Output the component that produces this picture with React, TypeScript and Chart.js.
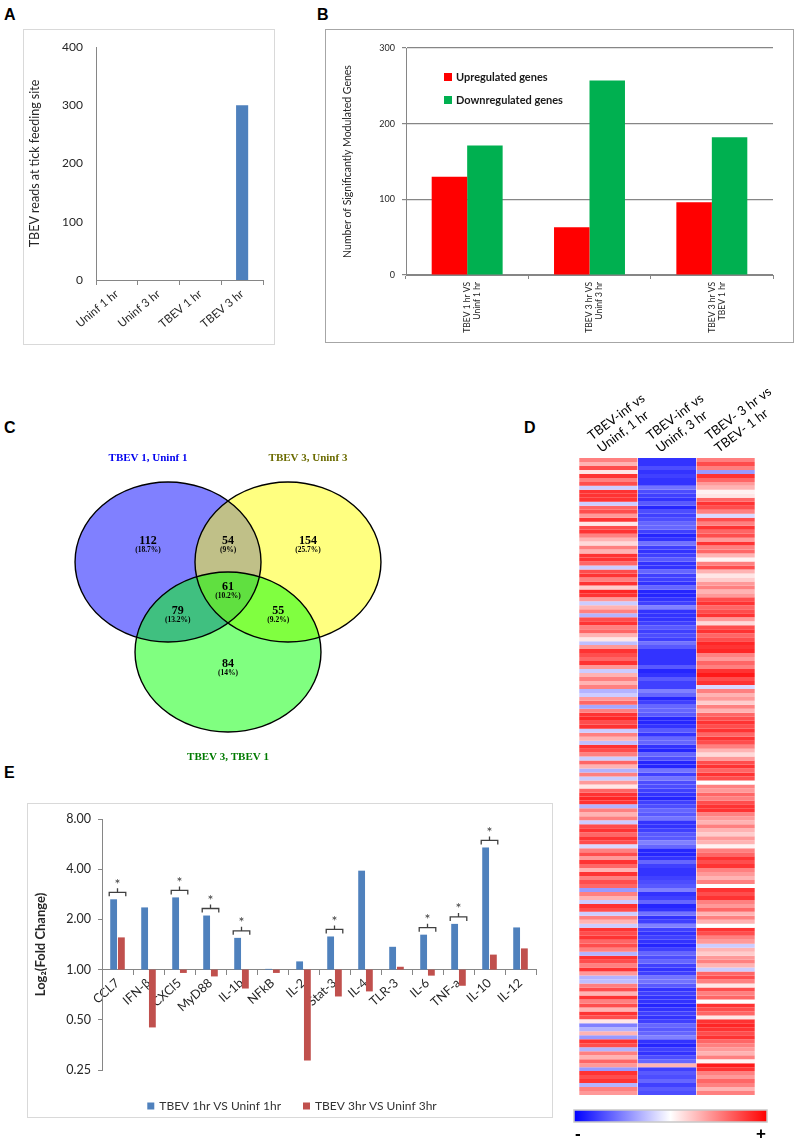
import React, { useEffect, useRef } from "react";
import { Chart, registerables } from "chart.js";
Chart.register(...registerables);

const SANS = "Lato, 'Open Sans', 'DejaVu Sans', sans-serif";
const SERIF = "'Liberation Serif', 'DejaVu Serif', serif";
const AXIS_GRAY = "#868686";
const TEXT = "#262626";

// ---------- Panel A ----------
const readCategories = ["Uninf 1 hr", "Uninf 3 hr", "TBEV 1 hr", "TBEV 3 hr"];
const readValues = [0, 0, 0, 300];
const readTicks = [0, 100, 200, 300, 400];

// ---------- Panel B ----------
const comparisonLabels = [
  ["TBEV 1 hr VS", "Uninf 1 hr"],
  ["TBEV 3 hr VS", "Uninf 3 hr"],
  ["TBEV 3 hr VS", "TBEV 1 hr"],
];
const upregulatedGenes = [130, 63, 96];
const downregulatedGenes = [171, 257, 182];
const geneTicks = [0, 100, 200, 300];

// ---------- Panel C (Venn) ----------
const vennSetNames = ["TBEV 1, Uninf 1", "TBEV 3, Uninf 3", "TBEV 3, TBEV 1"];
// regions: A only, B only, C only, A∩B, A∩C, B∩C, A∩B∩C
const vennRegionCounts = [112, 154, 84, 54, 79, 55, 61];
const vennRegionPercents = ["(18.7%)", "(25.7%)", "(14%)", "(9%)", "(13.2%)", "(9.2%)", "(10.2%)"];

// ---------- Panel D (heatmap) ----------
const heatmapColumns = [
  ["TBEV-inf vs", "Uninf, 1 hr"],
  ["TBEV-inf vs", "Uninf, 3 hr"],
  ["TBEV- 3 hr vs", "TBEV- 1 hr"],
];
const heatInf1hr = [
  0.5, 0.3, 0.7, 0.1, 0.8, 0.5, 0.7, -0.2, 0.8, 0.8,
  0.8, -0.2, 0.6, 0.7, 0.4, 0.8, 0.1, 0.7, 0.8, 0.5,
  0.3, 0.15, 0.5, 0.3, 0.8, 0.8, 0.6, -0.2, 0.7, 0.8,
  0.5, 0.8, 0.2, 0.85, 0.8, 0.4, -0.2, 0.3, 0.5, -0.3,
  0.7, 0.8, 0.5, 0.6, 0.3, 0.1, -0.25, 0.4, 0.8, 0.7,
  0.6, 0.8, 0.4, -0.2, 0.3, 0.5, 0.3, 0.5, -0.3, -0.2,
  0.4, 0.6, -0.35, 0.5, 0.8, 0.85, 0.7, 0.8, -0.2, 0.5,
  0.3, -0.25, 0.8, 0.7, 0.5, -0.2, 0.6, 0.3, -0.3, 0.5,
  -0.2, 0.4, 0.1, 0.6, 0.8, 0.85, 0.8, -0.3, 0.5, 0.3,
  0.5, -0.2, 0.7, 0.8, 0.6, 0.8, 0.7, -0.15, 0.5, 0.7,
  0.4, 0.8, 0.6, 0.3, 0.8, 0.5, 0.7, 0.6, -0.4, 0.5,
  0.3, -0.2, 0.8, 0.7, -0.2, 0.5, 0.3, -0.2, 0.8, 0.7,
  0.8, 0.6, 0.7, 0.5, -0.3, 0.8, 0.7, 0.5, 0.8, 0.4,
  -0.3, -0.25, 0.5, 0.7, 0.3, 0.8, 0.5, 0.7, 0.3, 0.8,
  0.7, 0.1, -0.5, -0.3, 0.3, -0.4, 0.8, 0.7, -0.3, 0.5,
  0.3, 0.6, 0.4, -0.4, 0.8, 0.7, 0.8, -0.3, 0.5, 0.4,
];
const heatInf3hr = [
  -0.8, -0.8, -0.7, -0.8, -0.75, -0.8, -0.8, -0.55, -0.7, -0.75,
  -0.8, -0.65, -0.85, -0.7, -0.75, -0.7, -0.6, -0.6, -0.75, -0.85,
  -0.8, -0.55, -0.75, -0.8, -0.75, -0.65, -0.8, -0.8, -0.6, -0.75,
  -0.75, -0.8, -0.6, -0.85, -0.85, -0.8, -0.75, -0.5, -0.8, -0.8,
  -0.8, -0.75, -0.65, -0.75, -0.7, -0.75, -0.55, -0.65, -0.8, -0.8,
  -0.8, -0.8, -0.65, -0.85, -0.8, -0.65, -0.75, -0.75, -0.5, -0.6,
  -0.85, -0.75, -0.6, -0.6, -0.65, -0.85, -0.85, -0.8, -0.65, -0.8,
  -0.6, -0.6, -0.8, -0.85, -0.6, -0.7, -0.85, -0.85, -0.55, -0.75,
  -0.55, -0.7, -0.7, -0.75, -0.8, -0.85, -0.75, -0.7, -0.6, -0.65,
  -0.55, -0.8, -0.8, -0.75, -0.65, -0.65, -0.5, -0.6, -0.85, -0.85,
  -0.8, -0.6, -0.75, -0.8, -0.8, -0.75, -0.7, -0.65, -0.5, -0.8,
  -0.75, -0.6, -0.85, -0.8, -0.55, -0.8, -0.75, -0.5, -0.75, -0.8,
  -0.75, -0.8, -0.85, -0.75, -0.6, -0.7, -0.6, -0.75, -0.8, -0.75,
  -0.55, -0.55, -0.65, -0.8, -0.75, -0.8, -0.8, -0.85, -0.8, -0.75,
  -0.8, -0.75, -0.6, -0.65, -0.6, -0.5, -0.8, -0.85, -0.75, -0.8,
  -0.7, -0.6, 0.3, -0.75, -0.65, -0.7, -0.6, -0.75, -0.65, -0.7,
];
const heat3vs1hr = [
  0.5, 0.7, 0.5, -0.4, 0.8, 0.6, 0.4, 0.3, 0.05, 0.1,
  0.6, 0.8, 0.7, 0.5, -0.15, 0.7, 0.5, 0.8, 0.6, 0.7,
  0.4, 0.8, 0.5, 0.6, 0.3, 0.05, 0.5, 0.7, 0.3, 0.1,
  0.2, 0.4, 0.5, 0.3, 0.4, 0.7, 0.8, 0.6, 0.7, 0.8,
  0.4, 0.15, 0.7, 0.8, 0.6, 0.7, 0.85, 0.8, 0.85, 0.5,
  0.4, 0.6, 0.5, 0.8, 0.9, 0.7, 0.8, -0.15, 0.5, 0.3,
  0.4, 0.2, 0.5, 0.3, 0.6, 0.7, 0.8, 0.7, 0.8, 0.6,
  0.8, 0.7, 0.5, 0.3, 0.15, 0.4, 0.7, 0.8, 0.6, 0.8,
  0.7, 0.0, 0.5, 0.4, 0.6, 0.5, 0.7, 0.8, 0.8, 0.5,
  0.4, 0.3, 0.5, 0.3, 0.2, 0.4, 0.3, 0.05, 0.5, 0.6,
  0.8, 0.7, 0.8, 0.5, 0.4, 0.3, 0.5, 0.0, 0.8, 0.7,
  0.8, 0.5, 0.4, 0.6, 0.3, 0.5, 0.3, 0.0, 0.8, 0.7,
  0.5, 0.4, -0.2, 0.3, 0.2, 0.4, 0.5, 0.3, -0.2, 0.6,
  0.7, 0.5, 0.1, 0.7, 0.5, 0.6, 0.0, 0.8, 0.7, 0.6,
  0.1, 0.8, 0.85, 0.8, 0.7, 0.8, 0.6, 0.5, 0.4, 0.3,
  0.5, 0.05, 0.9, 0.8, 0.5, 0.4, 0.6, 0.5, 0.3, 0.5,
];

// ---------- Panel E ----------
const genes = ["CCL7", "IFN-β", "CXCl5", "MyD88", "IL-1b", "NFkB", "IL-2", "Stat-3", "IL-4", "TLR-3", "IL-6", "TNF-a", "IL-10", "IL-12"];
const fold1hr = [2.64, 2.36, 2.71, 2.11, 1.55, 1.01, 1.12, 1.58, 3.92, 1.37, 1.62, 1.88, 5.4, 1.79];
const fold3hr = [1.56, 0.45, 0.955, 0.91, 0.77, 0.955, 0.285, 0.69, 0.74, 1.04, 0.92, 0.8, 1.23, 1.34];
const significant = [true, false, true, true, true, false, false, true, false, false, true, true, true, false];
const foldTicks = [0.25, 0.5, 1, 2, 4, 8];

// ---------- Venn geometry (diagram units, not data) ----------
const vennGeometry = {
  centers: [[-0.645, 0.484], [0.645, 0.484], [0, -0.484]],
  rx: 1,
  ry: 0.86,
  titleAnchors: [[-0.86, 1.6], [0.86, 1.6], [0, -1.61]],
  regionAnchors: [[-0.86, 0.7], [0.86, 0.7], [0, -0.62], [0, 0.7], [-0.54, -0.05], [0.54, -0.05], [0, 0.2]],
};
const vennFill = ["#8080ff", "#ffff80", "#80ff80"];
const vennOverlap = { ab: "#c0c088", ac: "#40c080", bc: "#80ff40", abc: "#60e040" };
const vennTitleColors = ["#0000ee", "#6b6b00", "#007a00"];

function heatColor(v: number) {
  const t = Math.max(-1, Math.min(1, v));
  if (t >= 0) {
    const c = Math.round(255 * (1 - t));
    return `rgb(255,${c},${c})`;
  }
  const c = Math.round(255 * (1 + t));
  return `rgb(${c},${c},255)`;
}

const fixBox = (w?: number, h?: number) => (s: any) => {
  if (w !== undefined) s.width = w;
  if (h !== undefined) s.height = h;
  s.paddingLeft = 0;
  s.paddingRight = 0;
  s.paddingTop = 0;
  s.paddingBottom = 0;
};

const baseOpts = {
  animation: false,
  responsive: false,
  maintainAspectRatio: false,
  events: [],
};

// ---------- plugins ----------
const insideLegendPlugin = {
  id: "insideLegend",
  afterDatasetsDraw(chart: any) {
    const { ctx, chartArea } = chart;
    ctx.save();
    ctx.font = `bold 11px ${SANS}`;
    ctx.textBaseline = "middle";
    chart.data.datasets.forEach((d: any, i: number) => {
      const y = chartArea.top + 29 + i * 23;
      const x = chartArea.left + 38;
      ctx.fillStyle = d.backgroundColor;
      ctx.fillRect(x, y - 4, 8, 8);
      ctx.fillStyle = "#1a1a1a";
      ctx.fillText(d.label, x + 12, y);
    });
    ctx.restore();
  },
};

const bottomLegendPlugin = {
  id: "bottomLegend",
  afterDraw(chart: any) {
    const { ctx } = chart;
    ctx.save();
    ctx.font = `12px ${SANS}`;
    ctx.textBaseline = "middle";
    const box = 7, gap = 5, spacing = 22;
    const items = chart.data.datasets;
    const widths = items.map((d: any) => box + gap + ctx.measureText(d.label).width);
    const total = widths.reduce((a: number, b: number) => a + b, 0) + spacing * (items.length - 1);
    let x = chart.width / 2 - total / 2 + 2;
    const y = chart.height - 12;
    items.forEach((d: any, i: number) => {
      ctx.fillStyle = d.backgroundColor;
      ctx.fillRect(x, y - 3.5, box, box);
      ctx.fillStyle = "#333";
      ctx.fillText(d.label, x + box + gap, y);
      x += widths[i] + spacing;
    });
    ctx.restore();
  },
};

const bracketPlugin = {
  id: "brackets",
  afterDatasetsDraw(chart: any) {
    const { ctx } = chart;
    const m0 = chart.getDatasetMeta(0).data;
    const m1 = chart.getDatasetMeta(1).data;
    ctx.save();
    ctx.strokeStyle = "#404040";
    ctx.fillStyle = "#404040";
    ctx.lineWidth = 1.3;
    ctx.font = `14px ${SANS}`;
    ctx.textAlign = "center";
    ctx.textBaseline = "middle";
    significant.forEach((s, i) => {
      if (!s) return;
      const b = m0[i], r = m1[i];
      const top = Math.min(b.y, b.base, r.y, r.base);
      const l = b.x - b.width / 2 - 1;
      const rr = r.x + r.width / 2 + 1;
      const cx = (l + rr) / 2;
      ctx.beginPath();
      ctx.moveTo(l, top - 3);
      ctx.lineTo(l, top - 7);
      ctx.lineTo(rr, top - 7);
      ctx.lineTo(rr, top - 3);
      ctx.moveTo(cx, top - 7);
      ctx.lineTo(cx, top - 11);
      ctx.stroke();
      ctx.fillText("*", cx, top - 15);
    });
    ctx.restore();
  },
};

const vennPlugin = {
  id: "venn",
  beforeDatasetsDraw(chart: any) {
    const { ctx } = chart;
    const xs = chart.scales.x, ys = chart.scales.y;
    const path = (i: number) => {
      const [cx, cy] = vennGeometry.centers[i];
      const px = xs.getPixelForValue(cx), py = ys.getPixelForValue(cy);
      const rx = Math.abs(xs.getPixelForValue(cx + vennGeometry.rx) - px);
      const ry = Math.abs(ys.getPixelForValue(cy + vennGeometry.ry) - py);
      ctx.beginPath();
      ctx.ellipse(px, py, rx, ry, 0, 0, Math.PI * 2);
    };
    ctx.save();
    [0, 1, 2].forEach((i) => {
      path(i);
      ctx.fillStyle = vennFill[i];
      ctx.fill();
    });
    const inter = (clip: number[], f: number, color: string) => {
      ctx.save();
      clip.forEach((c) => { path(c); ctx.clip(); });
      path(f);
      ctx.fillStyle = color;
      ctx.fill();
      ctx.restore();
    };
    inter([0], 1, vennOverlap.ab);
    inter([0], 2, vennOverlap.ac);
    inter([1], 2, vennOverlap.bc);
    inter([0, 1], 2, vennOverlap.abc);
    ctx.strokeStyle = "#000";
    ctx.lineWidth = 1.4;
    [0, 1, 2].forEach((i) => { path(i); ctx.stroke(); });
    ctx.restore();
  },
  afterDatasetsDraw(chart: any) {
    const { ctx } = chart;
    const xs = chart.scales.x, ys = chart.scales.y;
    ctx.save();
    ctx.textAlign = "center";
    ctx.textBaseline = "middle";
    ctx.font = `bold 11px ${SERIF}`;
    vennSetNames.forEach((n, i) => {
      const [tx, ty] = vennGeometry.titleAnchors[i];
      ctx.fillStyle = vennTitleColors[i];
      ctx.fillText(n, xs.getPixelForValue(tx), ys.getPixelForValue(ty));
    });
    const pts = chart.getDatasetMeta(0).data;
    ctx.fillStyle = "#000";
    vennRegionCounts.forEach((c, i) => {
      const p = pts[i];
      ctx.font = `bold 12px ${SERIF}`;
      ctx.fillText(String(c), p.x, p.y - 1);
      ctx.font = `bold 7.5px ${SERIF}`;
      ctx.fillText(vennRegionPercents[i], p.x, p.y + 8);
    });
    ctx.restore();
  },
};

const colorbarPlugin = {
  id: "colorbar",
  afterDraw(chart: any) {
    const { ctx, chartArea: a } = chart;
    const x0 = a.left - 5, x1 = a.right + 12, y0 = a.bottom + 15, h = 12;
    ctx.save();
    const g = ctx.createLinearGradient(x0, 0, x1, 0);
    for (let k = 0; k <= 20; k++) g.addColorStop(k / 20, heatColor(-1 + k / 10));
    ctx.fillStyle = g;
    ctx.fillRect(x0, y0, x1 - x0, h);
    ctx.strokeStyle = "#c8c8c8";
    ctx.lineWidth = 1.5;
    ctx.strokeRect(x0, y0, x1 - x0, h);
    ctx.fillStyle = "#000";
    ctx.font = `bold 17px 'Liberation Sans', Arial, sans-serif`;
    ctx.textBaseline = "middle";
    ctx.textAlign = "left";
    ctx.fillText("-", x0 + 1, y0 + 24);
    ctx.textAlign = "right";
    ctx.fillText("+", x1 - 1, y0 + 24);
    ctx.restore();
  },
};

// ---------- chart configs ----------
const makeA = () => ({
  type: "bar",
  data: {
    labels: readCategories,
    datasets: [{ label: "TBEV reads", data: readValues, backgroundColor: "#4f81bd", barPercentage: 0.29, categoryPercentage: 1 }],
  },
  options: {
    ...baseOpts,
    layout: { padding: { top: 18, right: 12, left: 0, bottom: 0 } },
    plugins: { legend: { display: false }, tooltip: { enabled: false } },
    scales: {
      x: {
        grid: { offset: true, drawOnChartArea: false, tickLength: 5, color: AXIS_GRAY },
        border: { color: AXIS_GRAY },
        ticks: { autoSkip: false, minRotation: 40, maxRotation: 40, padding: 2, color: TEXT, font: { family: SANS, size: 11.5 } },
        afterFit: fixBox(undefined, 65),
      },
      y: {
        min: 0, max: 400,
        afterBuildTicks: (s: any) => { s.ticks = readTicks.map((v) => ({ value: v })); },
        grid: { display: false, drawTicks: false },
        border: { color: AXIS_GRAY },
        ticks: { padding: 13, color: TEXT, font: { family: SANS, size: 12 } },
        title: { display: true, text: "TBEV reads at tick feeding site", color: TEXT, font: { family: SANS, size: 12.5 }, padding: { top: 4, bottom: 0 } },
        afterFit: fixBox(73),
      },
    },
  },
});

const makeB = () => ({
  type: "bar",
  data: {
    labels: comparisonLabels,
    datasets: [
      { label: "Upregulated genes", data: upregulatedGenes, backgroundColor: "#ff0000", barPercentage: 1, categoryPercentage: 0.58 },
      { label: "Downregulated genes", data: downregulatedGenes, backgroundColor: "#00b050", barPercentage: 1, categoryPercentage: 0.58 },
    ],
  },
  options: {
    ...baseOpts,
    layout: { padding: { top: 19, right: 21, left: 0, bottom: 0 } },
    plugins: { legend: { display: false }, tooltip: { enabled: false } },
    scales: {
      x: {
        grid: { offset: true, drawOnChartArea: false, tickLength: 4, color: AXIS_GRAY },
        border: { color: AXIS_GRAY },
        ticks: { autoSkip: false, minRotation: 90, maxRotation: 90, padding: 3, color: TEXT, font: { family: SANS, size: 8.5 } },
        afterFit: fixBox(undefined, 68),
      },
      y: {
        min: 0, max: 300,
        afterBuildTicks: (s: any) => { s.ticks = geneTicks.map((v) => ({ value: v })); },
        grid: { color: AXIS_GRAY, lineWidth: 1.2, tickLength: 4 },
        border: { color: AXIS_GRAY },
        ticks: { padding: 7, color: TEXT, font: { family: SANS, size: 9 } },
        title: { display: true, text: "Number of Significantly Modulated Genes", color: TEXT, font: { family: SANS, size: 10.5 }, padding: { top: 16, bottom: 0 } },
        afterFit: fixBox(81),
      },
    },
  },
  plugins: [insideLegendPlugin],
});

const makeC = () => ({
  type: "scatter",
  data: {
    datasets: [{ label: "regions", data: vennGeometry.regionAnchors.map(([x, y]) => ({ x, y })), pointRadius: 0 }],
  },
  options: {
    ...baseOpts,
    layout: { padding: 0 },
    plugins: { legend: { display: false }, tooltip: { enabled: false } },
    scales: {
      x: { display: false, min: -2.452, max: 2.452 },
      y: { display: false, min: -2.011, max: 2.011 },
    },
  },
  plugins: [vennPlugin],
});

const makeD = () => ({
  type: "bar",
  data: {
    labels: heatmapColumns,
    datasets: heatInf1hr.map((_, i) => ({
      label: `row ${i + 1}`,
      data: [[i, i + 1], [i, i + 1], [i, i + 1]],
      backgroundColor: [heatColor(heatInf1hr[i]), heatColor(heatInf3hr[i]), heatColor(heat3vs1hr[i])],
      borderWidth: 0,
      grouped: false,
      categoryPercentage: 1,
      barPercentage: 0.99,
    })),
  },
  options: {
    ...baseOpts,
    layout: { padding: { left: 19, right: 43, top: 0, bottom: 45 } },
    plugins: { legend: { display: false }, tooltip: { enabled: false } },
    scales: {
      x: {
        position: "top",
        grid: { display: false, drawTicks: false },
        border: { display: false },
        ticks: { autoSkip: false, minRotation: 37, maxRotation: 37, padding: 2, color: "#000", font: { family: SANS, size: 13 } },
        afterFit: fixBox(undefined, 78),
      },
      y: { display: false, reverse: true, min: 0, max: heatInf1hr.length },
    },
  },
  plugins: [colorbarPlugin],
});

const makeE = () => ({
  type: "bar",
  data: {
    labels: genes,
    datasets: [
      { label: "TBEV 1hr VS Uninf 1hr", data: fold1hr.map((v) => [1, v]), backgroundColor: "#4f81bd", categoryPercentage: 0.5, barPercentage: 0.88 },
      { label: "TBEV 3hr VS Uninf 3hr", data: fold3hr.map((v) => [1, v]), backgroundColor: "#c0504d", categoryPercentage: 0.5, barPercentage: 0.88 },
    ],
  },
  options: {
    ...baseOpts,
    layout: { padding: { top: 16, right: 17, bottom: 48, left: 0 } },
    plugins: { legend: { display: false }, tooltip: { enabled: false } },
    scales: {
      x: {
        position: { y: 1 },
        grid: { offset: true, drawOnChartArea: false, tickLength: 5, color: AXIS_GRAY },
        border: { color: AXIS_GRAY },
        ticks: { autoSkip: false, minRotation: 42, maxRotation: 42, padding: 1, color: TEXT, font: { family: SANS, size: 12.5 } },
        afterFit: fixBox(),
      },
      y: {
        type: "logarithmic",
        min: 0.25, max: 8,
        afterBuildTicks: (s: any) => { s.ticks = foldTicks.map((v) => ({ value: v })); },
        grid: { drawOnChartArea: false, tickLength: 4, color: AXIS_GRAY },
        border: { color: AXIS_GRAY },
        ticks: { padding: 7, color: TEXT, font: { family: SANS, size: 12.5 }, callback: (v: any) => Number(v).toFixed(2) },
        title: { display: true, text: "Log₂(Fold Change)", color: TEXT, font: { family: SANS, size: 13, weight: "bold" }, padding: { top: 6, bottom: 0 } },
        afterFit: fixBox(75),
      },
    },
  },
  plugins: [bracketPlugin, bottomLegendPlugin],
});

function ChartCanvas({ left, top, width, height, make }: any) {
  const ref = useRef<HTMLCanvasElement | null>(null);
  useEffect(() => {
    if (!ref.current) return;
    const chart = new Chart(ref.current, make() as any);
    return () => chart.destroy();
  }, []);
  return (
    <div style={{ position: "absolute", left, top, width, height }}>
      <canvas ref={ref} width={width} height={height} style={{ display: "block", width, height }} />
    </div>
  );
}

function PanelLetter({ text, cx, cy }: any) {
  return (
    <div
      style={{
        position: "absolute",
        left: cx - 6,
        top: cy - 9,
        lineHeight: "18px",
        font: "bold 16px 'Liberation Sans', Arial, sans-serif",
        color: "#000",
      }}
    >
      {text}
    </div>
  );
}

function Frame({ left, top, width, height, color, w }: any) {
  return (
    <div
      style={{
        position: "absolute",
        left, top, width, height,
        boxSizing: "border-box",
        border: `${w}px solid ${color}`,
        pointerEvents: "none",
      }}
    />
  );
}

export default function App() {
  return (
    <div style={{ position: "absolute", left: 0, top: 0, width: 798, height: 1140, background: "#fff", overflow: "hidden" }}>
      <PanelLetter text="A" cx={10} cy={15} />
      <PanelLetter text="B" cx={323} cy={15} />
      <PanelLetter text="C" cx={10} cy={428} />
      <PanelLetter text="D" cx={530} cy={428} />
      <PanelLetter text="E" cx={10} cy={773} />

      <ChartCanvas left={23} top={29} width={252} height={316} make={makeA} />
      <Frame left={23} top={29} width={252} height={316} color="#d9d9d9" w={1} />

      <ChartCanvas left={325} top={29} width={469} height={314} make={makeB} />
      <Frame left={325} top={29} width={469} height={314} color="#a6a6a6" w={1.5} />

      <ChartCanvas left={0} top={420} width={456} height={374} make={makeC} />

      <ChartCanvas left={560} top={380} width={238} height={760} make={makeD} />

      <ChartCanvas left={27} top={803} width={526} height={315} make={makeE} />
      <Frame left={27} top={803} width={526} height={315} color="#d9d9d9" w={1.5} />
    </div>
  );
}
